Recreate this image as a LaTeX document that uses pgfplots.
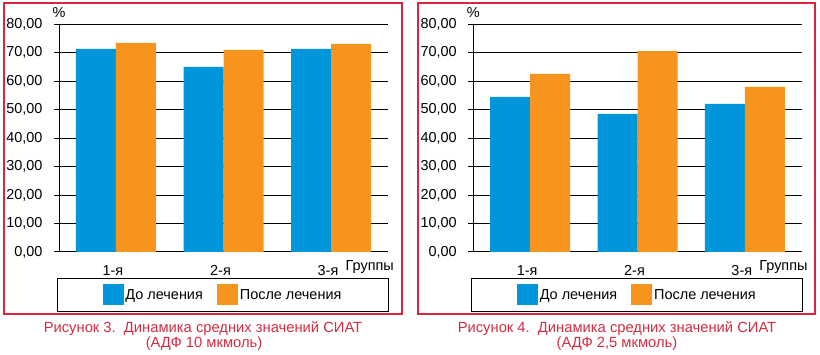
\documentclass[border=0pt]{standalone}
\usepackage{pgfplots}
\pgfplotsset{compat=1.18}
\usepackage{fontspec}
\setmainfont{Liberation Sans}
\definecolor{cBlue}{RGB}{0,150,219}
\definecolor{cOrange}{RGB}{247,148,30}
\definecolor{cRed}{RGB}{218,37,60}
\definecolor{cCap}{RGB}{210,45,66}
\newcommand\fs{\fontsize{14.5}{17}\selectfont}
\newcommand\fcap{\fontsize{14.8}{17}\selectfont}
\pgfplotsset{
  mybar/.style={
    scale only axis, width=#1, height=227.7bp, clip=false,
    xmin=-0.53, xmax=2.53, ymin=0, ymax=80,
    ybar=0pt, bar width=40bp,
    axis x line*=bottom, axis y line*=left,
    axis line style={black, line width=1bp, -},
    ymajorgrids, grid style={black, line width=1bp},
    ytick={0,10,...,80},
    tick align=outside, major tick length=5bp,
    ytick style={black, line width=1bp},
    xtick={0,1,2}, xticklabels={1-я,2-я,3-я},
    xtick style={draw=none},
    every tick label/.append style={font=\fs, text=black},
    xticklabel style={anchor=base, yshift=-19bp, xshift=-3bp},
    yticklabel style={xshift=-8bp, /pgf/number format/.cd, fixed, fixed zerofill, precision=2, use comma, assume math mode=true},
    legend columns=2,
    legend style={at={(rel axis cs:0,0)}, anchor=north west, xshift=-2bp, yshift=-26bp,
      draw=black, line width=1bp, font=\fs, inner xsep=45bp, inner ysep=6bp,
      /tikz/every even column/.append style={column sep=12bp}},
    legend image code/.code={\fill[##1] (0bp,-10.5bp) rectangle (21bp,10.5bp);},
  }
}
\begin{document}
\begin{tikzpicture}
\path (0bp,0bp) rectangle (820bp,354bp);
\draw[cRed, line width=1.2bp] (4bp,40bp) rectangle (402bp,351bp);
\draw[cRed, line width=1.2bp] (418bp,40bp) rectangle (815bp,351bp);

\begin{axis}[mybar=329bp, at={(59bp,329.7bp)}, anchor=north west]
\addplot[fill=cBlue, draw=none] coordinates {(0,71.35) (1,65.0) (2,71.35)};
\addplot[fill=cOrange, draw=none] coordinates {(0,73.45) (1,71.0) (2,73.1)};
\legend{До лечения, После лечения}
\node[anchor=base, font=\fs] at ([yshift=7bp]rel axis cs:0,1) {\%};
\node[anchor=base east, inner sep=0pt, font=\fs] at ([xshift=6bp,yshift=-19bp]rel axis cs:1,0) {Группы};
\end{axis}

\begin{axis}[mybar=328.4bp, at={(473.3bp,329.7bp)}, anchor=north west]
\addplot[fill=cBlue, draw=none] coordinates {(0,54.5) (1,48.5) (2,52.0)};
\addplot[fill=cOrange, draw=none] coordinates {(0,62.6) (1,70.6) (2,58.0)};
\legend{До лечения, После лечения}
\node[anchor=base, font=\fs] at ([yshift=7bp]rel axis cs:0,1) {\%};
\node[anchor=base east, inner sep=0pt, font=\fs] at ([xshift=6bp,yshift=-19bp]rel axis cs:1,0) {Группы};
\end{axis}

\node[anchor=base, font=\fcap, text=cCap] at (203bp,21bp) {Рисунок 3.\ \ Динамика средних значений СИАТ};
\node[anchor=base, font=\fcap, text=cCap] at (204bp,6bp) {(АДФ 10 мкмоль)};
\node[anchor=base, font=\fcap, text=cCap] at (617bp,21bp) {Рисунок 4.\ \ Динамика средних значений СИАТ};
\node[anchor=base, font=\fcap, text=cCap] at (617bp,6bp) {(АДФ 2,5 мкмоль)};
\end{tikzpicture}
\end{document}
